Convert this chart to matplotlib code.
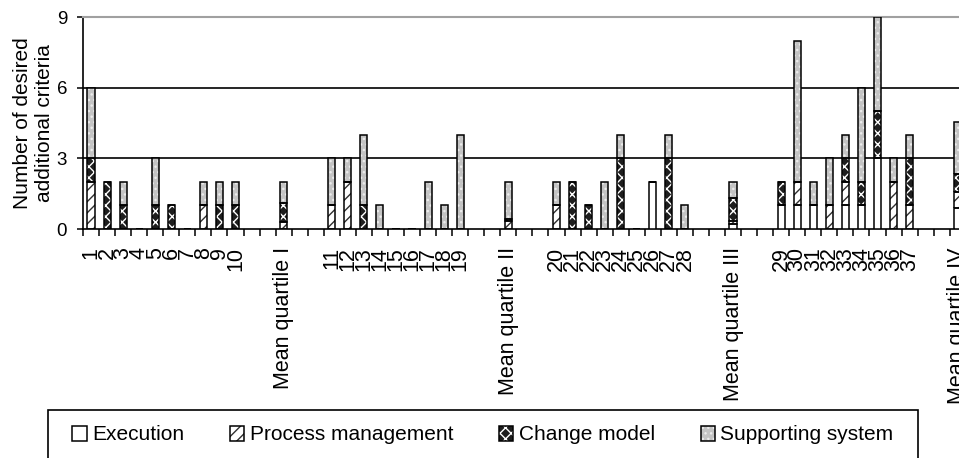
import numpy as np
import matplotlib.pyplot as plt
from matplotlib.patches import Patch, Rectangle

plt.rcParams['font.family'] = ['Liberation Sans', 'DejaVu Sans']
plt.rcParams['hatch.linewidth'] = 1.0

# bars in order: 1-10, mean I, 11-19, mean II, 20-28, mean III, 29-37, mean IV
group_sizes = [10, 9, 9, 9]
categories = ([str(i) for i in range(1, 11)] + ['Mean quartile I']
              + [str(i) for i in range(11, 20)] + ['Mean quartile II']
              + [str(i) for i in range(20, 29)] + ['Mean quartile III']
              + [str(i) for i in range(29, 38)] + ['Mean quartile IV'])

execution = [0, 0, 0, 0, 0, 0, 0, 0, 0, 0, 0,
             0, 0, 0, 0, 0, 0, 0, 0, 0, 0,
             0, 0, 0, 0, 0, 0, 2, 0, 0, 0.22,
             1, 1, 1, 0, 1, 1, 3, 0, 0, 0.89]
process_mgmt = [2, 0, 0, 0, 0, 0, 0, 1, 0, 0, 0.3,
                1, 2, 0, 0, 0, 0, 0, 0, 0, 0.33,
                1, 0, 0, 0, 0, 0, 0, 0, 0, 0.11,
                0, 1, 0, 1, 1, 0, 0, 2, 1, 0.67]
change_model = [1, 2, 1, 0, 1, 1, 0, 0, 1, 1, 0.8,
                0, 0, 1, 0, 0, 0, 0, 0, 0, 0.11,
                0, 2, 1, 0, 3, 0, 0, 3, 0, 1.0,
                1, 0, 0, 0, 1, 1, 2, 0, 2, 0.78]
supporting = [3, 0, 1, 0, 2, 0, 0, 1, 1, 1, 0.9,
              2, 1, 3, 1, 0, 0, 2, 1, 4, 1.56,
              1, 0, 0, 2, 1, 0, 0, 1, 1, 0.67,
              0, 6, 1, 2, 1, 4, 4, 1, 1, 2.22]

series_names = ['Execution', 'Process management', 'Change model', 'Supporting system']
series_values = [execution, process_mgmt, change_model, supporting]
# (face, hatch colour, hatch)
styles = [('white', 'white', ''),
          ('white', '#303030', '///'),
          ('#1e1e1e', 'white', 'xxx'),
          ('#c4c4c4', '#ececec', '...')]

# slot positions: two empty slots on each side of every mean bar
pos = []
x = 0
for g in group_sizes:
    for i in range(g):
        pos.append(x)
        x += 1
    x += 2
    pos.append(x)
    x += 3
pos = np.array(pos)
n_slots = pos[-1] + 1

fig = plt.figure(figsize=(9.59, 4.58), dpi=100)
ax = fig.add_axes([83/959, 229/458, n_slots*16.05/959, 212/458])

bottom = np.zeros(len(pos))
w = 0.44
for vals, (fc, hc, h) in zip(series_values, styles):
    vals = np.array(vals, dtype=float)
    ax.bar(pos, vals, w, bottom=bottom, color=fc, edgecolor=hc, hatch=h, lw=0, zorder=3)
    ax.bar(pos, vals, w, bottom=bottom, fill=False, edgecolor='black', lw=1.1, zorder=4)
    bottom += vals

ax.set_xlim(-0.5, n_slots - 0.5)
ax.set_ylim(0, 9)
ax.set_yticks([0, 3, 6, 9])
for yv in [3, 6]:
    ax.axhline(yv, color='black', lw=1.2, zorder=1)

ax.set_xticks(pos)
ax.set_xticklabels(categories, rotation=90, fontsize=15.5)
ax.set_xticks(np.arange(n_slots + 1) - 0.5, minor=True)
ax.tick_params(axis='x', which='major', length=0, pad=13)
ax.tick_params(axis='x', which='minor', length=5, width=1.1, direction='out')
ax.tick_params(axis='y', length=4.5, width=1.1, labelsize=13.5, pad=7)

for s in ['left', 'bottom']:
    ax.spines[s].set_linewidth(1.2)
ax.spines['top'].set_color('#a0a0a0')
ax.spines['top'].set_linewidth(1.5)
ax.spines['right'].set_visible(False)

ax.set_ylabel('Number of desired\nadditional criteria', fontsize=15)
ax.yaxis.set_label_coords(-0.033, 0.5)

# legend box runs off the bottom of the picture
fig.patches.append(Rectangle((48/959, -0.1), (918 - 48)/959, (458 - 410)/458 + 0.1,
                             transform=fig.transFigure, fill=False,
                             edgecolor='black', lw=1.2))

handles = [(Patch(facecolor=fc, edgecolor=hc, hatch=h, lw=0),
            Patch(facecolor='none', edgecolor='black', lw=1.1))
           for fc, hc, h in styles]
fig.legend(handles, series_names, ncol=4, loc='center left',
           bbox_to_anchor=(72/959, 1 - 435/458), fontsize=15,
           frameon=False, handlelength=0.7, handleheight=0.7,
           handletextpad=0.25, columnspacing=2.2, borderpad=0,
           borderaxespad=0)

fig.savefig('out.png', dpi=100)
